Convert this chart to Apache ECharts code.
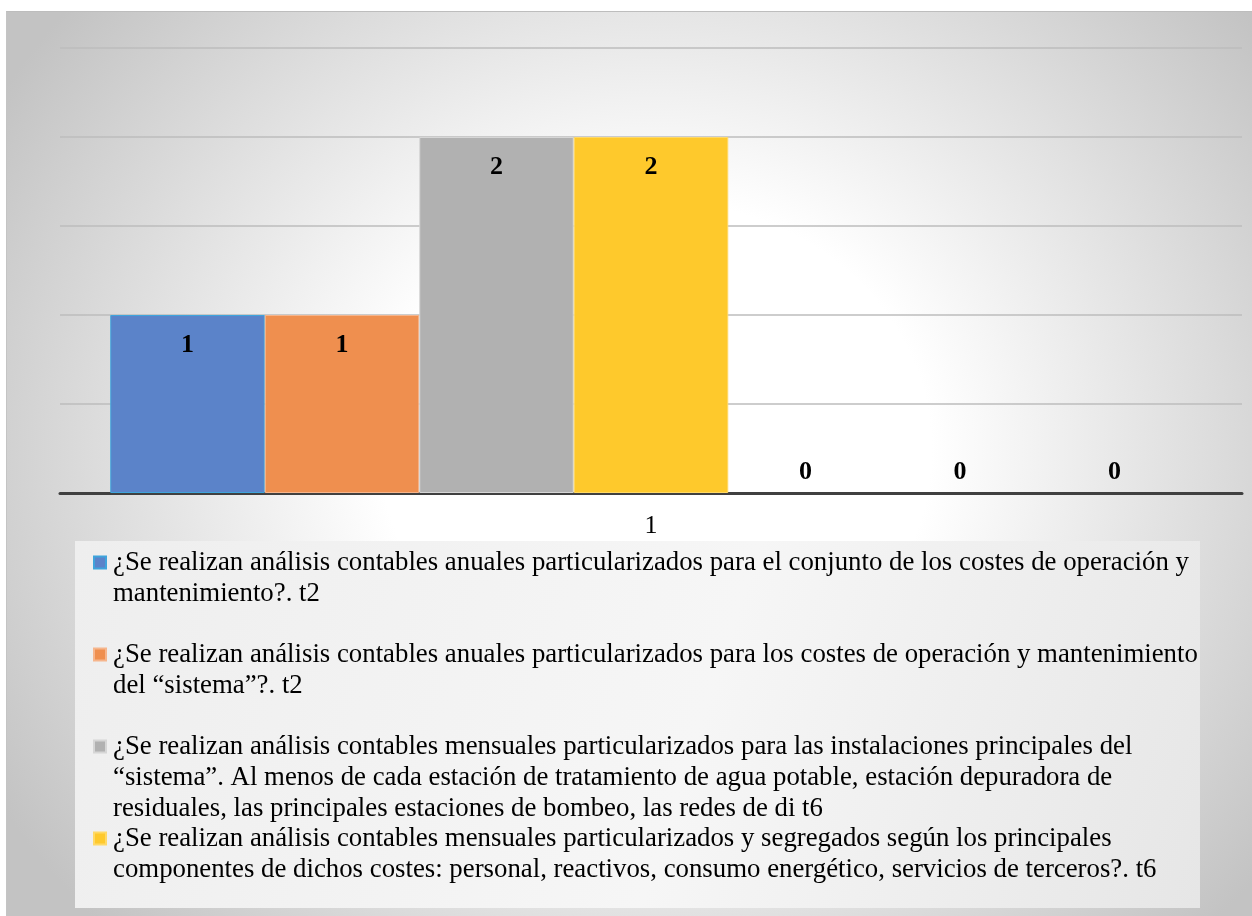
<!DOCTYPE html>
<html lang="es">
<head>
<meta charset="UTF-8">
<style>
  * { margin: 0; padding: 0; box-sizing: border-box; }
  body { background: #ffffff; }
  #chart {
    position: absolute;
    left: 6px;
    top: 11px;
    width: 1246px;
    height: 905px;
    border-top: 1px solid #bdbdbd;
    border-left: 1px solid #c4c4c4;
    background: radial-gradient(ellipse 765px 690px at 649px 438px, #ffffff 0%, #ffffff 36%, #c3c3c3 100%);
  }
</style>
<script src="https://cdn.jsdelivr.net/npm/echarts@6/dist/echarts.min.js"></script>
</head>
<body>
<div id="chart"></div>
<script>
  const categories = ['1'];
  const seriesNames = [
    '¿Se realizan análisis contables anuales particularizados para el conjunto de los costes de operación y mantenimiento?. t2',
    '¿Se realizan análisis contables anuales particularizados para los costes de operación y mantenimiento del “sistema”?. t2',
    '¿Se realizan análisis contables mensuales particularizados para las instalaciones principales del “sistema”. Al menos de cada estación de tratamiento de agua potable, estación depuradora de residuales, las principales estaciones de bombeo, las redes de di t6',
    '¿Se realizan análisis contables mensuales particularizados y segregados según los principales componentes de dichos costes: personal, reactivos, consumo energético, servicios de terceros?. t6',
    'Serie 5',
    'Serie 6',
    'Serie 7'
  ];
  const seriesValues = [1, 1, 2, 2, 0, 0, 0];
  const seriesColors = ['#5b83c9', '#ef8f4f', '#b1b1b1', '#fec92c', '#5b9bd5', '#70ad47', '#264478'];
  const borderColors = ['#3fa4dc', '#f6b58c', '#d6d6d6', '#ffd966', '#9dc3e6', '#a9d18e', '#5a7bb5'];
  const legendShown = seriesNames.slice(0, 4);
  const yTicks = { min: 0, max: 2.5, interval: 0.5 };

  const serif = "'Liberation Serif', 'Times New Roman', serif";
  const legendFontSize = 26.8;
  const legendTextWidth = 1088;
  const legendLines = 3;

  // word wrap legend names the way the original legend box did
  const measureCtx = document.createElement('canvas').getContext('2d');
  function wrapText(text) {
    measureCtx.font = legendFontSize + "px 'Liberation Serif'";
    const lines = [];
    let line = '';
    text.split(' ').forEach(w => {
      const test = line ? line + ' ' + w : w;
      if (line && measureCtx.measureText(test).width > legendTextWidth) {
        lines.push(line);
        line = w;
      } else {
        line = test;
      }
    });
    if (line) lines.push(line);
    while (lines.length < legendLines) lines.push(' ');
    return lines.join('\n');
  }

  const chart = echarts.init(document.getElementById('chart'), null, { renderer: 'canvas' });

  const series = seriesNames.map((name, i) => ({
    name: name,
    type: 'bar',
    barWidth: 154.5,
    barGap: '0%',
    data: [seriesValues[i]],
    itemStyle: {
      color: seriesColors[i],
      borderColor: borderColors[i],
      borderWidth: seriesValues[i] > 0 ? 1 : 0
    },
    label: {
      show: true,
      position: seriesValues[i] > 0 ? 'insideTop' : 'top',
      distance: seriesValues[i] > 0 ? 17 : 8,
      fontFamily: serif,
      fontWeight: 'bold',
      fontSize: 26,
      color: '#000000'
    }
  }));

  // legend square sits at the first text line of each 93px high item
  const legendIcon = 'path://M0,0 M0,9.5 L12,9.5 L12,21.5 L0,21.5 Z M12,93';

  chart.setOption({
    backgroundColor: 'transparent',
    animation: false,
    graphic: [{
      type: 'rect',
      z: -10,
      shape: { x: 68, y: 529, width: 1125, height: 367 },
      style: {
        fill: new echarts.graphic.LinearGradient(0, 0, 1, 1, [
          { offset: 0, color: '#eeeeee' },
          { offset: 0.55, color: '#f6f6f6' },
          { offset: 1, color: '#e6e6e6' }
        ])
      }
    }],
    grid: { left: 53, right: 10, top: 36, bottom: 423 },
    legend: {
      data: legendShown.map(n => ({ name: n, icon: legendIcon })),
      orient: 'vertical',
      left: 86,
      top: 534,
      height: 420,
      padding: 0,
      itemGap: -3,
      itemWidth: 12,
      itemHeight: 93,
      selectedMode: false,
      formatter: wrapText,
      textStyle: {
        fontFamily: serif,
        fontSize: legendFontSize,
        color: '#000000',
        lineHeight: 31,
        padding: [0, 0, 0, 2]
      }
    },
    xAxis: {
      type: 'category',
      data: categories,
      axisLine: { lineStyle: { color: '#404040', width: 3 } },
      axisTick: { show: false },
      axisLabel: { fontFamily: serif, fontSize: 26, color: '#000000', margin: 20 }
    },
    yAxis: {
      type: 'value',
      min: yTicks.min,
      max: yTicks.max,
      interval: yTicks.interval,
      axisLabel: { show: false },
      axisLine: { show: false },
      axisTick: { show: false },
      splitLine: { lineStyle: { color: '#bcbcbc', width: 1.5 } }
    },
    series: series
  });
</script>
</body>
</html>
